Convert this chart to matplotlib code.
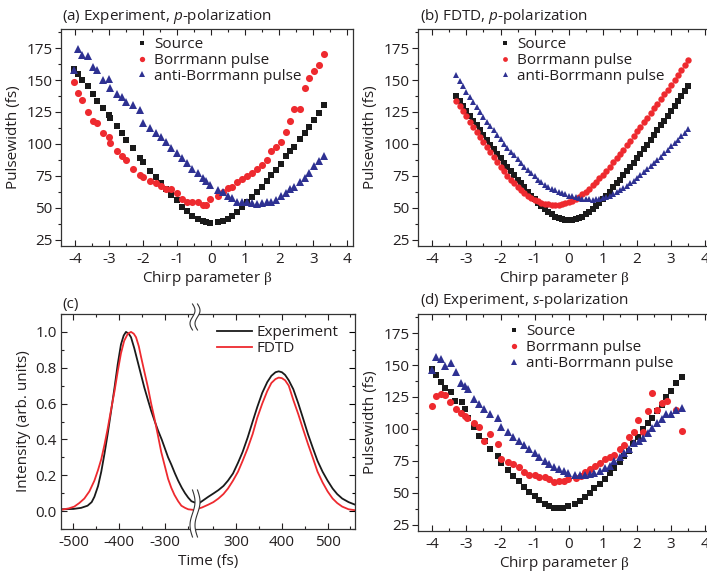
import numpy as np
import matplotlib
matplotlib.use("Agg")
import matplotlib.pyplot as plt
from matplotlib.ticker import MultipleLocator, FormatStrFormatter
from matplotlib.lines import Line2D
from matplotlib.patches import Polygon

plt.rcParams['font.family'] = ['Open Sans', 'DejaVu Sans']
plt.rcParams['axes.unicode_minus'] = False
plt.rcParams['mathtext.fontset'] = 'custom'
plt.rcParams['mathtext.rm'] = 'Open Sans'
plt.rcParams['mathtext.it'] = 'Open Sans:italic'
plt.rcParams['mathtext.sf'] = 'Liberation Serif'

BLACK = '#1a1a1a'
RED = '#ee2a2f'
BLUE = '#2e3192'
TXT = '#231f20'

# ---------------- Panel (a): experiment, p-polarization ----------------
a_beta = [-4.03, -3.92, -3.79, -3.64, -3.48, -3.35, -3.17, -3.02, -2.97, -2.78,
          -2.63, -2.51, -2.31, -2.10, -2.00, -1.79, -1.63, -1.49, -1.34, -1.19,
          -1.02, -0.87, -0.71, -0.57, -0.39, -0.24, -0.15, -0.03,
          0.21, 0.34, 0.49, 0.61, 0.75, 0.90, 1.04, 1.19, 1.34, 1.48,
          1.64, 1.76, 1.90, 2.05, 2.20, 2.31, 2.44, 2.60, 2.75, 2.88,
          3.02, 3.17, 3.32]
a_source = [158.7, 155.0, 150.4, 145.0, 138.8, 133.6, 128.0, 122.8, 120.2, 113.7,
            108.6, 103.1, 96.9, 89.2, 85.8, 78.8, 73.7, 69.0, 64.4, 59.7,
            56.1, 50.9, 47.5, 43.7, 41.1, 39.5, 38.8, 38.0,
            38.8, 39.3, 41.1, 43.2, 46.5, 50.4, 54.3, 58.1, 62.5, 66.4,
            70.8, 75.5, 79.9, 84.5, 90.2, 94.1, 97.5, 103.9, 108.3, 113.5,
            118.9, 124.1, 130.3]
a_borrmann = [148.6, 139.6, 134.4, 125.1, 118.1, 116.1, 108.3, 105.7, 100.8, 94.3,
              90.5, 87.6, 80.6, 76.0, 73.7, 71.0, 69.0, 66.9, 64.6, 64.3,
              61.7, 56.6, 54.8, 54.8, 54.8, 52.2, 52.2, 56.9,
              59.5, 62.0, 65.1, 65.9, 70.3, 72.1, 75.0, 77.3, 80.1, 83.2,
              87.6, 94.8, 97.9, 101.3, 109.1, 118.1, 127.2, 127.2, 143.5, 151.7,
              156.9, 162.1, 170.3]
a_anti = [158.2, 174.2, 169.3, 168.5, 160.5, 158.2, 149.9, 151.0, 143.5, 139.3,
          137.0, 133.1, 130.5, 126.4, 116.0, 112.7, 108.8, 105.2, 101.3, 96.7,
          92.8, 89.2, 85.0, 80.6, 77.3, 72.9, 70.8, 67.7,
          63.8, 62.0, 59.2, 57.9, 54.8, 54.8, 54.8, 53.5, 53.0, 54.0,
          54.3, 54.3, 56.1, 59.2, 61.2, 64.4, 66.4, 70.3, 73.4, 76.8,
          82.7, 86.6, 90.2]

# ---------------- Panel (b): FDTD, p-polarization ----------------
b_beta = [-3.3, -3.2, -3.1, -3.0, -2.9, -2.8, -2.7, -2.6, -2.5, -2.4,
          -2.3, -2.2, -2.1, -2.0, -1.9, -1.8, -1.7, -1.6, -1.5, -1.4,
          -1.3, -1.2, -1.1, -1.0, -0.9, -0.8, -0.7, -0.6, -0.5, -0.4,
          -0.3, -0.2, -0.1, 0.0, 0.1, 0.2, 0.3, 0.4, 0.5, 0.6,
          0.7, 0.8, 0.9, 1.0, 1.1, 1.2, 1.3, 1.4, 1.5, 1.6,
          1.7, 1.8, 1.9, 2.0, 2.1, 2.2, 2.3, 2.4, 2.5, 2.6,
          2.7, 2.8, 2.9, 3.0, 3.1, 3.2, 3.3, 3.4, 3.5]
b_source = [137.5, 133.5, 129.5, 126.0, 122.0, 118.0, 114.5, 110.5, 107.0, 103.0,
            99.5, 96.0, 92.0, 89.0, 85.0, 82.0, 78.5, 75.5, 72.0, 69.0,
            66.0, 62.5, 59.5, 56.5, 54.0, 51.5, 49.0, 47.0, 45.0, 43.0,
            42.0, 41.0, 40.5, 40.0, 40.5, 41.0, 42.0, 43.0, 45.0, 47.0,
            49.0, 51.5, 54.0, 56.5, 59.5, 62.5, 66.0, 69.0, 72.0, 75.5,
            78.5, 82.0, 85.0, 89.0, 92.0, 96.0, 99.5, 103.0, 107.0, 110.5,
            114.5, 118.0, 122.0, 126.0, 129.5, 133.5, 137.5, 141.5, 145.5]
b_borrmann = [133.5, 129.5, 125.5, 121.5, 117.5, 113.5, 109.5, 105.5, 101.5, 97.5,
              93.5, 89.5, 85.5, 82.0, 78.5, 75.0, 72.0, 69.0, 66.5, 64.0,
              61.5, 59.5, 57.5, 56.0, 55.0, 54.0, 53.2, 52.8, 52.5, 52.4,
              52.5, 52.8, 53.5, 54.5, 55.5, 57.0, 58.5, 60.5, 62.5, 65.0,
              67.5, 70.0, 73.0, 76.0, 79.0, 82.0, 85.5, 89.0, 92.0, 95.5,
              99.0, 102.5, 106.0, 110.0, 113.5, 117.0, 120.5, 124.5, 128.0, 131.5,
              135.5, 139.0, 142.5, 146.5, 150.0, 154.0, 157.5, 161.5, 165.5]
b_anti = [154.0, 149.5, 145.0, 141.0, 137.0, 133.0, 129.0, 125.0, 121.0, 117.5,
          114.0, 110.5, 107.0, 103.5, 100.0, 97.0, 94.0, 91.0, 88.0, 85.0,
          82.0, 79.5, 77.0, 74.5, 72.0, 70.0, 68.0, 66.5, 65.0, 63.5,
          62.5, 61.5, 60.5, 59.5, 58.8, 58.2, 57.6, 57.2, 56.8, 56.5,
          56.4, 56.5, 56.9, 57.5, 58.3, 59.3, 60.5, 62.0, 63.5, 65.2,
          67.0, 69.0, 71.0, 73.0, 75.3, 77.6, 80.0, 82.5, 85.0, 87.5,
          90.0, 92.5, 95.2, 98.0, 100.6, 103.3, 106.0, 108.7, 111.4]

# ---------------- Panel (c): temporal profiles ----------------
c_t_left_exp = [-525, -500, -483, -469, -460, -454, -446, -439, -432, -425, -418, -410,
                -403, -396, -390, -385, -379, -374, -367, -360, -352, -345, -337,
                -330, -322, -315, -307, -300, -293, -286, -278, -271, -263, -256,
                -249, -242, -232]
c_i_left_exp = [0.010, 0.012, 0.018, 0.030, 0.050, 0.080, 0.140, 0.220, 0.320, 0.430,
                0.550, 0.690, 0.820, 0.930, 0.980, 1.000, 0.990, 0.970, 0.910, 0.840,
                0.760, 0.690, 0.620, 0.560, 0.500, 0.450, 0.400, 0.350, 0.300, 0.260,
                0.210, 0.170, 0.130, 0.100, 0.075, 0.055, 0.045]
c_t_left_fdtd = [-525, -510, -498, -487, -476, -465, -454, -446, -439, -432, -425, -418,
                 -410, -403, -396, -389, -381, -374, -368, -363, -357, -352, -345,
                 -337, -330, -323, -315, -308, -300, -293, -286, -279, -271, -264,
                 -256, -249, -232]
c_i_left_fdtd = [0.008, 0.015, 0.025, 0.045, 0.070, 0.110, 0.170, 0.230, 0.290, 0.370,
                 0.460, 0.560, 0.670, 0.780, 0.880, 0.950, 0.990, 1.000, 0.990, 0.970,
                 0.920, 0.860, 0.780, 0.690, 0.600, 0.520, 0.420, 0.330, 0.250, 0.180,
                 0.130, 0.090, 0.055, 0.030, 0.018, 0.010, 0.005]
c_t_right = [212, 225, 239, 250, 261, 272, 282, 293, 304, 314, 325, 336, 346, 357,
             368, 377, 386, 393, 400, 407, 415, 425, 436, 446, 457, 468, 478, 489,
             500, 511, 521, 532, 546, 560]
c_i_right_exp = [0.032, 0.055, 0.080, 0.098, 0.117, 0.140, 0.170, 0.210, 0.270, 0.330,
                 0.410, 0.500, 0.580, 0.660, 0.720, 0.755, 0.775, 0.780, 0.775, 0.760,
                 0.730, 0.680, 0.600, 0.520, 0.430, 0.350, 0.280, 0.220, 0.170, 0.126,
                 0.095, 0.070, 0.050, 0.036]
c_i_right_fdtd = [0.010, 0.020, 0.036, 0.050, 0.070, 0.095, 0.126, 0.170, 0.220, 0.280,
                  0.350, 0.430, 0.520, 0.600, 0.670, 0.715, 0.737, 0.745, 0.742, 0.730,
                  0.700, 0.620, 0.540, 0.460, 0.375, 0.295, 0.220, 0.160, 0.110, 0.070,
                  0.045, 0.025, 0.010, 0.005]

# ---------------- Panel (d): experiment, s-polarization ----------------
d_beta_source = [-4.02, -3.90, -3.76, -3.63, -3.46, -3.34, -3.14, -3.03, -2.95, -2.78,
                 -2.63, -2.46, -2.32, -2.08, -1.98, -1.78, -1.64, -1.47, -1.32, -1.17,
                 -1.00, -0.86, -0.71, -0.57, -0.42, -0.31, -0.18, -0.03,
                 0.18, 0.33, 0.47, 0.62, 0.74, 0.91, 1.05, 1.20, 1.34, 1.49,
                 1.62, 1.76, 1.89, 2.03, 2.18, 2.33, 2.44, 2.59, 2.73, 2.86,
                 3.01, 3.14, 3.32]
d_source = [146.6, 142.0, 137.1, 132.0, 128.6, 122.2, 120.9, 115.2, 108.5, 101.5,
            94.3, 90.5, 84.0, 79.1, 73.2, 68.0, 63.4, 59.5, 54.6, 50.7,
            47.4, 44.0, 41.5, 39.7, 38.4, 37.9, 38.4, 39.2,
            41.5, 43.6, 46.6, 49.5, 53.4, 57.2, 61.1, 65.5, 69.3, 74.0,
            78.4, 83.0, 88.7, 93.3, 99.8, 104.6, 108.8, 113.7, 118.8, 125.3,
            129.9, 135.6, 141.0]
d_beta_borrmann = [-4.02, -3.90, -3.76, -3.63, -3.48, -3.32, -3.16, -3.03, -2.97, -2.79,
                   -2.64, -2.48, -2.32, -2.08, -1.98, -1.78, -1.64, -1.47, -1.32, -1.17,
                   -1.00, -0.86, -0.71, -0.57, -0.42, -0.28, -0.15, -0.03,
                   0.21, 0.35, 0.48, 0.63, 0.76, 0.91, 1.05, 1.20, 1.34, 1.49,
                   1.62, 1.76, 1.91, 2.04, 2.17, 2.32, 2.44, 2.59, 2.73, 2.88,
                   3.14, 3.32]
d_borrmann = [117.8, 126.0, 127.1, 126.8, 120.9, 115.7, 112.4, 110.0, 108.5, 104.6,
              101.5, 90.5, 95.9, 88.1, 76.5, 74.0, 72.4, 69.8, 66.0, 63.7,
              63.7, 62.4, 62.4, 60.4, 58.5, 59.1, 59.5, 60.4,
              61.6, 62.9, 66.0, 68.6, 71.1, 73.2, 76.5, 77.6, 79.6, 84.0,
              87.4, 93.8, 97.7, 106.7, 97.7, 114.4, 127.8, 115.0, 120.4, 122.2,
              114.5, 98.5]
d_beta_anti = [-4.02, -3.90, -3.76, -3.63, -3.46, -3.32, -3.16, -3.05, -2.95, -2.79,
               -2.64, -2.48, -2.32, -2.08, -1.98, -1.78, -1.64, -1.47, -1.32, -1.17,
               -1.00, -0.86, -0.71, -0.57, -0.42, -0.28, -0.15, -0.03,
               0.18, 0.33, 0.47, 0.62, 0.74, 0.91, 1.05, 1.20, 1.34, 1.49,
               1.62, 1.76, 1.91, 2.05, 2.18, 2.33, 2.44, 2.59, 2.73, 2.86,
               3.01, 3.14, 3.32]
d_anti = [146.1, 156.4, 154.9, 149.2, 151.3, 144.8, 136.3, 133.8, 131.2, 123.5,
          119.6, 115.7, 111.3, 108.5, 101.5, 97.7, 93.8, 90.5, 87.4, 84.0,
          81.0, 77.6, 75.0, 72.7, 70.1, 68.6, 67.3, 65.5,
          64.2, 64.2, 64.2, 64.7, 65.5, 66.8, 69.3, 70.6, 74.5, 77.6,
          81.0, 84.3, 88.7, 90.5, 92.5, 96.9, 100.3, 104.6, 108.0, 111.3,
          111.9, 114.5, 116.5]

series_labels = ['Source', 'Borrmann pulse', 'anti-Borrmann pulse']
c_labels = ['Experiment', 'FDTD']

# ---------------- figure ----------------
W, H = 707, 575
fig = plt.figure(figsize=(W / 100, H / 100), dpi=100)


def px_axes(left, top, width, height):
    return fig.add_axes([left / W, 1 - (top + height) / H, width / W, height / H])


FS = 11


def style_pulse_axes(ax):
    ax.set_xlim(-4.42, 4.17)
    ax.set_ylim(20, 190)
    ax.xaxis.set_major_locator(MultipleLocator(1))
    ax.xaxis.set_minor_locator(MultipleLocator(0.5))
    ax.yaxis.set_major_locator(MultipleLocator(25))
    ax.yaxis.set_minor_locator(MultipleLocator(12.5))
    ax.tick_params(axis='x', which='both', direction='in', top=True, bottom=True,
                   labelsize=FS, colors=TXT, pad=4)
    ax.tick_params(axis='y', which='both', direction='out', left=True, right=False,
                   labelsize=FS, colors=TXT, pad=2)
    ax.tick_params(which='major', length=4, width=0.8)
    ax.tick_params(which='minor', length=2.5, width=0.8)
    for s in ax.spines.values():
        s.set_linewidth(0.9)
        s.set_color('#333333')
    ax.set_xlabel(r'Chirp parameter $\mathsf{\beta}$', fontsize=FS, color=TXT, labelpad=2)
    ax.set_ylabel('Pulsewidth (fs)', fontsize=FS, color=TXT, labelpad=4)


def scatter3(ax, xs, ys, ms):
    kw = dict(linestyle='none', markeredgewidth=0)
    h1, = ax.plot(xs[0], ys[0], marker='s', color=BLACK, ms=ms, **kw)
    h2, = ax.plot(xs[1], ys[1], marker='o', color=RED, ms=ms + 0.6, **kw)
    h3, = ax.plot(xs[2], ys[2], marker='^', color=BLUE, ms=ms + 0.8, **kw)
    return [h1, h2, h3]


def legend3(ax, handles, anchor):
    ax.legend(handles, series_labels, loc='upper left', bbox_to_anchor=anchor,
              frameon=False, fontsize=FS, handlelength=0.6, handletextpad=0.5,
              labelspacing=0.05, markerscale=0.75, borderaxespad=0,
              labelcolor=TXT)


# (a)
axa = px_axes(61, 29, 292, 217)
style_pulse_axes(axa)
ha = scatter3(axa, [a_beta, a_beta, a_beta], [a_source, a_borrmann, a_anti], 4.5)
legend3(axa, ha, (0.24, 0.99))
fig.text(62 / W, 1 - 20 / H, r'(a) Experiment, $\mathit{p}$-polarization',
         fontsize=FS, color=TXT, ha='left', va='baseline')

# (b)
axb = px_axes(418, 29, 293, 217)
style_pulse_axes(axb)
hb = scatter3(axb, [b_beta, b_beta, b_beta], [b_source, b_borrmann, b_anti], 4.0)
legend3(axb, hb, (0.26, 0.99))
fig.text(420 / W, 1 - 20 / H, r'(b) FDTD, $\mathit{p}$-polarization',
         fontsize=FS, color=TXT, ha='left', va='baseline')

# (d)
axd = px_axes(418, 314, 293, 217)
style_pulse_axes(axd)
hd = scatter3(axd, [d_beta_source, d_beta_borrmann, d_beta_anti],
              [d_source, d_borrmann, d_anti], 4.5)
legend3(axd, hd, (0.29, 0.98))
fig.text(420 / W, 1 - 304 / H, r'(d) Experiment, $\mathit{s}$-polarization',
         fontsize=FS, color=TXT, ha='left', va='baseline')

# (c) broken time axis
cl = px_axes(61, 314, 135, 215)
cr = px_axes(196, 314, 159, 215)
cl.set_xlim(-527, -232)
cr.set_xlim(212, 560)
for ax in (cl, cr):
    ax.set_ylim(-0.1, 1.1)
    ax.yaxis.set_major_locator(MultipleLocator(0.2))
    ax.yaxis.set_minor_locator(MultipleLocator(0.1))
    ax.xaxis.set_major_locator(MultipleLocator(100))
    ax.xaxis.set_minor_locator(MultipleLocator(50))
    ax.tick_params(axis='x', which='both', direction='in', top=True, bottom=True,
                   labelsize=FS, colors=TXT, pad=4)
    ax.tick_params(which='major', length=4, width=0.8)
    ax.tick_params(which='minor', length=2.5, width=0.8)
    for s in ax.spines.values():
        s.set_linewidth(0.9)
        s.set_color('#333333')
cl.spines['right'].set_visible(False)
cr.spines['left'].set_visible(False)
cl.tick_params(axis='y', which='both', direction='in', left=True, right=False,
               labelsize=FS, colors=TXT, pad=3)
cr.tick_params(axis='y', which='both', direction='in', left=False, right=True,
               labelleft=False, labelright=False)
cl.yaxis.set_major_formatter(FormatStrFormatter('%.1f'))

lw = 1.3
l1, = cl.plot(c_t_left_exp, c_i_left_exp, color=BLACK, lw=lw)
l2, = cl.plot(c_t_left_fdtd, c_i_left_fdtd, color=RED, lw=lw)
cr.plot(c_t_right, c_i_right_exp, color=BLACK, lw=lw)
cr.plot(c_t_right, c_i_right_fdtd, color=RED, lw=lw)
cr.legend([l1, l2], c_labels, loc='upper right', bbox_to_anchor=(0.955, 0.99),
          frameon=False, fontsize=FS, handlelength=2.3, handletextpad=0.3,
          labelspacing=0.05, borderaxespad=0.2, labelcolor=TXT)
cl.set_ylabel('Intensity (arb. units)', fontsize=FS, color=TXT, labelpad=3)
fig.text(208 / W, 1 - 561 / H, 'Time (fs)', fontsize=FS, color=TXT,
         ha='center', va='center')
fig.text(62 / W, 1 - 308 / H, '(c)', fontsize=FS, color=TXT, ha='left', va='baseline')


# break marks (decoration)
def break_mark(xc, y0, y1):
    ys = np.linspace(y0, y1, 40)
    ph = (ys - y0) / (y1 - y0)
    off = 2.5 * np.sin(2 * np.pi * ph)
    xa = xc - 2.5 + off
    xb = xc + 2.5 + off
    poly = np.column_stack([np.concatenate([xa, xb[::-1]]) / W,
                            1 - np.concatenate([ys, ys[::-1]]) / H])
    fig.add_artist(Polygon(poly, closed=True, transform=fig.transFigure,
                           facecolor='white', edgecolor='none', zorder=10))
    for xx in (xa, xb):
        fig.add_artist(Line2D(xx / W, 1 - ys / H, transform=fig.transFigure,
                              color='#333333', lw=0.8, zorder=11))


break_mark(195, 304, 330)
break_mark(195, 490, 537)

fig.savefig('out.png', dpi=100)
